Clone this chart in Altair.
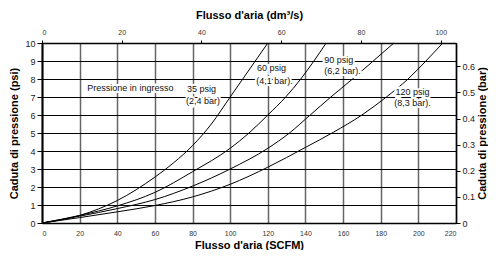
import altair as alt
import pandas as pd

FONT = "Liberation Sans"

# ---- data (SCFM vs psi) ----
scfm_35 = [0, 20, 40, 60, 70, 80, 90, 100, 110, 120]
psi_35 = [0, 0.42, 1.25, 2.55, 3.35, 4.3, 5.5, 7.0, 8.5, 10]

scfm_60 = [0, 20, 40, 60, 80, 100, 110, 120, 129.5, 137.5, 144.5, 151]
psi_60 = [0, 0.42, 0.95, 1.7, 2.85, 4.15, 5.0, 6.0, 7.0, 8.0, 9.0, 10]

scfm_90 = [0, 20, 40, 60, 80, 100, 120, 131.5, 142.5, 153.5, 165, 176, 187]
psi_90 = [0, 0.38, 0.8, 1.3, 2.05, 3.0, 4.15, 5.0, 6.0, 7.0, 8.0, 9.0, 10]

scfm_120 = [0, 20, 40, 60, 80, 100, 120, 140, 155, 170, 183, 194.5, 204, 213]
psi_120 = [0, 0.3, 0.62, 0.97, 1.45, 2.15, 3.1, 4.2, 5.05, 6.0, 7.0, 8.0, 9.0, 10]

series = ["35 psig", "60 psig", "90 psig", "120 psig"]

# annotation texts (left-aligned, anchored in data units)
label_text = ["Pressione in ingresso", "35 psig", "(2,4 bar)", "60 psig", "(4,1 bar).",
              "90 psig", "(6,2 bar).", "120 psig", "(8,3 bar)."]
label_scfm = [24.1, 77.0, 76.5, 114.2, 113.8, 150.0, 150.0, 187.9, 187.2]
label_psi = [7.5, 7.42, 6.78, 8.63, 7.89, 9.07, 8.43, 7.27, 6.68]

# axes
bottom_ticks = list(range(0, 221, 20))
left_ticks = list(range(0, 11))
top_ticks = [0, 20, 40, 60, 80, 100]
right_ticks = [0, 0.1, 0.2, 0.3, 0.4, 0.5, 0.6]
DM3S_MAX = 220 / 2.11888
BAR_MAX = 10 / 14.5038

rows = []
for name, xs, ys in zip(series, [scfm_35, scfm_60, scfm_90, scfm_120],
                        [psi_35, psi_60, psi_90, psi_120]):
    for i, (a, b) in enumerate(zip(xs, ys)):
        rows.append({"series": name, "order": i, "scfm": a, "psi": b})
df = pd.DataFrame(rows)

lab = pd.DataFrame({"text": label_text, "scfm": label_scfm, "psi": label_psi})
sec = pd.DataFrame({"dm3s": [0, DM3S_MAX], "bar": [0, BAR_MAX]})

xscale = alt.Scale(domain=[0, 220], nice=False, zero=False)
yscale = alt.Scale(domain=[0, 10], nice=False, zero=False)
XT = "Flusso d'aria (SCFM)"
YT = "Caduta di pressione (psi)"

xaxis = alt.Axis(values=bottom_ticks, grid=True, gridColor="#666", gridWidth=1.5,
                 ticks=False, domainColor="black", domainWidth=1.5,
                 labelFontSize=7, labelColor="#333", labelPadding=6,
                 titleFontSize=11, titleFontWeight="bold", titlePadding=3,
                 titleColor="black", labelFont=FONT, titleFont=FONT)
yaxis = alt.Axis(values=left_ticks, grid=True, gridColor="black", gridWidth=1.2,
                 ticks=True, tickSize=5, tickColor="black", domainColor="black",
                 domainWidth=2, labelFontSize=9, labelColor="#222", labelPadding=2,
                 titleFontSize=11, titleFontWeight="bold", titlePadding=5,
                 titleColor="black", labelFont=FONT, titleFont=FONT)


def xenc():
    return alt.X("scfm:Q", scale=xscale, title=XT, axis=xaxis)


def yenc():
    return alt.Y("psi:Q", scale=yscale, title=YT, axis=yaxis)


lines = alt.Chart(df).mark_line(color="black", strokeWidth=1, interpolate="monotone").encode(
    x=xenc(), y=yenc(), detail="series:N", order="order:Q",
)

halo = alt.Chart(lab).mark_text(align="left", baseline="middle", font=FONT, fontSize=9,
                                stroke="white", strokeWidth=4, fill="white").encode(
    x=xenc(), y=yenc(), text="text:N",
)
texts = alt.Chart(lab).mark_text(align="left", baseline="middle", font=FONT, fontSize=9,
                                 color="#111").encode(
    x=xenc(), y=yenc(), text="text:N",
)

main = alt.layer(lines, halo, texts)

secondary = alt.Chart(sec).mark_point(opacity=0).encode(
    x=alt.X("dm3s:Q", scale=alt.Scale(domain=[0, DM3S_MAX], nice=False, zero=False),
            title="Flusso d'aria (dm³/s)",
            axis=alt.Axis(orient="top", values=top_ticks, grid=False, tickSize=3,
                          tickColor="black", domainColor="black", domainWidth=1.5,
                          labelFontSize=7, labelColor="#333", labelPadding=5,
                          titleFontSize=11, titleFontWeight="bold", titlePadding=8,
                          titleColor="black", labelFont=FONT, titleFont=FONT)),
    y=alt.Y("bar:Q", scale=alt.Scale(domain=[0, BAR_MAX], nice=False, zero=False),
            title="Caduta di pressione (bar)",
            axis=alt.Axis(orient="right", values=right_ticks, format="~g", grid=False,
                          tickSize=4, tickColor="black", domainColor="black", domainWidth=1.5,
                          labelFontSize=9, labelColor="#222", labelPadding=2,
                          titleAngle=270, titleBaseline="top", titleFontSize=11,
                          titleFontWeight="bold", titlePadding=2, titleColor="black",
                          labelFont=FONT, titleFont=FONT)),
)

chart = alt.layer(main, secondary).resolve_scale(x="independent", y="independent").properties(
    width=480, height=242,
    autosize=alt.AutoSizeParams(type="fit", contains="padding"),
    padding={"left": 0, "top": 1, "right": 0, "bottom": 0},
    background="white"
).configure_view(stroke="black", strokeWidth=1)

chart.save("out.html", embed_options={"renderer": "svg", "actions": False})
